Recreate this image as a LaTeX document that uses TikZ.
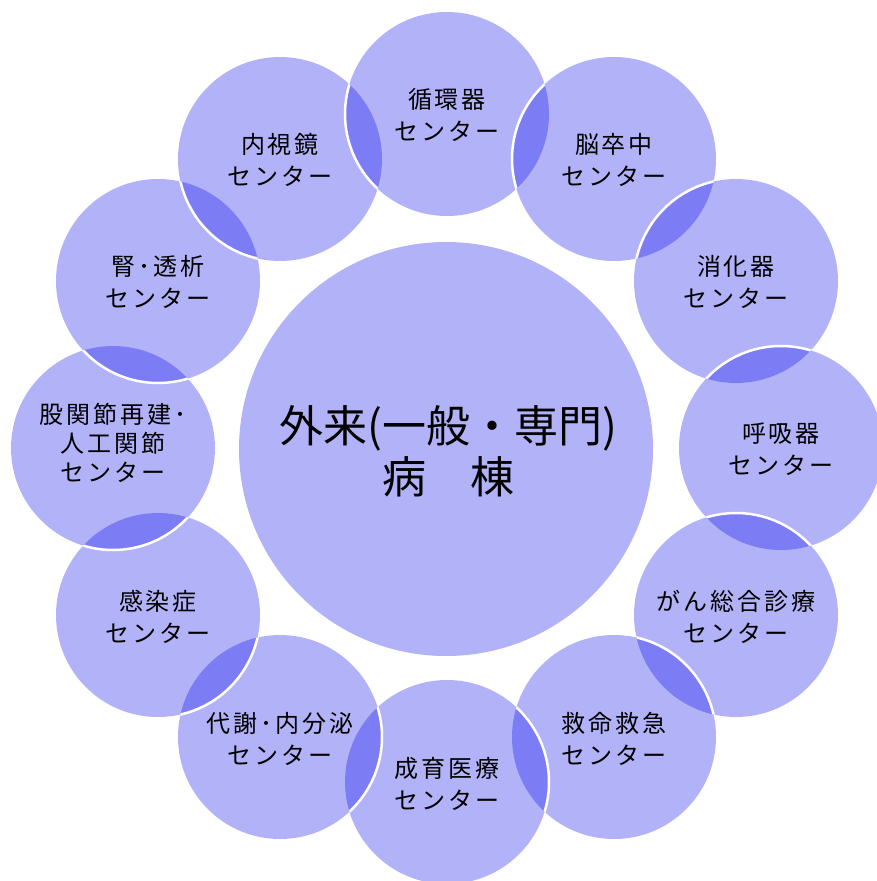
\documentclass[tikz,border=0pt]{standalone}
\usepackage{fontspec}
\newfontfamily\jp{Noto Sans CJK JP}[LetterSpace=12]
\newfontfamily\jpc{Noto Sans CJK JP}
\definecolor{bubcol}{RGB}{0,0,235}
\tikzset{
  bubble/.style={circle, draw=none, fill=bubcol, fill opacity=0.3, minimum size=204pt, inner sep=0pt},
  hub/.style={circle, draw=none, fill=bubcol, fill opacity=0.3, minimum size=414pt, inner sep=0pt},
  lbl/.style={align=center, font=\jp\fontsize{24}{32}\selectfont, text=black, inner sep=0pt},
  lblthree/.style={align=center, font=\jp\fontsize{24}{29}\selectfont, text=black, inner sep=0pt},
  hublbl/.style={align=center, font=\jpc\fontsize{44}{51}\selectfont, text=black, inner sep=0pt},
  rim/.style={draw=white, line width=2.5pt},
}
\begin{document}
\begin{tikzpicture}[x=1pt,y=-1pt]
\useasboundingbox (0,0) rectangle (876,881);
% central circle
\node[hub] (hubc) at (446,449) {};
% outer circles
\node[bubble] (c1) at (447,114) {};
\node[bubble] (c2) at (280,159) {};
\node[bubble] (c3) at (158,281) {};
\node[bubble] (c4) at (113,448) {};
\node[bubble] (c5) at (158,615) {};
\node[bubble] (c6) at (280,737) {};
\node[bubble] (c7) at (447,782) {};
\node[bubble] (c8) at (614,737) {};
\node[bubble] (c9) at (736,615) {};
\node[bubble] (c10) at (781,448) {};
\node[bubble] (c11) at (736,281) {};
\node[bubble] (c12) at (614,159) {};
% white rims of the upper circle inside each overlap
\foreach \a/\b in {c1/c2,c2/c3,c3/c4,c4/c5,c5/c6,c6/c7,c7/c8,c8/c9,c9/c10,c10/c11,c11/c12,c12/c1}{
  \begin{scope}
    \clip (\b.center) circle[radius=102pt];
    \draw[rim] (\a.center) circle[radius=102pt];
  \end{scope}
}
% labels
\node[hublbl] (lc) at (448,451) {外来(一般・専門)\\病　棟};
\node[lbl] (l1) at (447,115) {循環器\\センター};
\node[lbl] (l2) at (280,160) {内視鏡\\センター};
\node[lbl] (l3) at (158,282) {腎･透析\\センター};
\node[lblthree] (l4) at (113,443) {股関節再建･\\人工関節\\センター};
\node[lbl] (l5) at (158,617) {感染症\\センター};
\node[lbl] (l6) at (280,739) {代謝･内分泌\\センター};
\node[lbl] (l7) at (447,784) {成育医療\\センター};
\node[lbl] (l8) at (614,739) {救命救急\\センター};
\node[lbl] (l9) at (736,617) {がん総合診療\\センター};
\node[lbl] (l10) at (781,449) {呼吸器\\センター};
\node[lbl] (l11) at (736,282) {消化器\\センター};
\node[lbl] (l12) at (614,160) {脳卒中\\センター};
\end{tikzpicture}
\end{document}
